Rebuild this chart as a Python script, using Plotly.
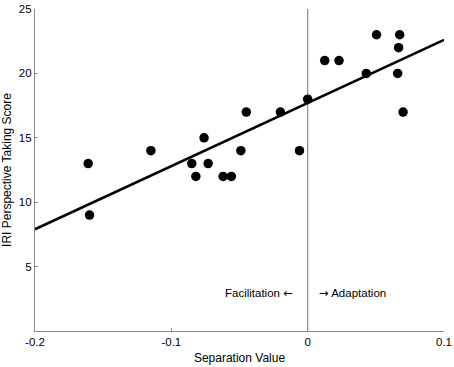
import plotly.graph_objects as go

# Data
sep_values = [-0.161, -0.160, -0.115, -0.085, -0.082, -0.076, -0.073, -0.062, -0.056,
              -0.049, -0.045, -0.020, -0.006, 0.000, 0.0125, 0.023, 0.043, 0.0505,
              0.0675, 0.0667, 0.066, 0.070]
iri_scores = [13, 9, 14, 13, 12, 15, 13, 12, 12,
              14, 17, 17, 14, 18, 21, 21, 20, 23,
              23, 22, 20, 17]

fit_x = [-0.2, 0.1]
fit_y = [7.9, 22.6]

x_ticks = [-0.2, -0.1, 0, 0.1]
x_tick_labels = ["-0.2", "-0.1", "0", "0.1"]
y_ticks = [5, 10, 15, 20, 25]
y_tick_labels = ["5", "10", "15", "20", "25"]

FONT = "Liberation Sans, Arial, Helvetica, sans-serif"
AXIS_COLOR = "#8a8a8a"
ARROW = "<span style='font-family:DejaVu Sans'>%s</span>"

fig = go.Figure()

# vertical reference line at x = 0
fig.add_trace(go.Scatter(x=[0, 0], y=[0, 25], mode="lines",
                         line=dict(color=AXIS_COLOR, width=1.2),
                         hoverinfo="skip", showlegend=False))

fig.add_trace(go.Scatter(x=fit_x, y=fit_y, mode="lines",
                         line=dict(color="black", width=2.5),
                         showlegend=False))

fig.add_trace(go.Scatter(x=sep_values, y=iri_scores, mode="markers",
                         marker=dict(color="black", size=9.5, line=dict(width=0)),
                         showlegend=False))

fig.add_annotation(x=-0.009, y=2.95, xref="x", yref="y",
                   text="Facilitation " + ARROW % "\u2190",
                   showarrow=False, xanchor="right", yanchor="middle",
                   font=dict(family=FONT, size=11.5, color="black"))
fig.add_annotation(x=0.007, y=2.95, xref="x", yref="y",
                   text=ARROW % "\u2192" + " Adaptation",
                   showarrow=False, xanchor="left", yanchor="middle",
                   font=dict(family=FONT, size=11.5, color="black"))

fig.update_layout(
    width=454, height=367,
    margin=dict(l=35, r=10, t=9, b=36, autoexpand=False),
    plot_bgcolor="white", paper_bgcolor="white",
    font=dict(family=FONT, size=11, color="black"),
    xaxis=dict(range=[-0.2, 0.1], tickvals=x_ticks, ticktext=x_tick_labels,
               automargin=False,
               showgrid=False, zeroline=False, showline=True, linecolor=AXIS_COLOR,
               linewidth=1.2, ticks="inside", ticklen=3, tickcolor=AXIS_COLOR,
               tickfont=dict(size=11.5),
               title=dict(text="Separation Value", font=dict(size=12), standoff=6)),
    yaxis=dict(range=[0, 25], tickvals=y_ticks, ticktext=y_tick_labels,
               automargin=False,
               showgrid=False, zeroline=False, showline=True, linecolor=AXIS_COLOR,
               linewidth=1.2, ticks="inside", ticklen=3, tickcolor=AXIS_COLOR,
               tickfont=dict(size=11.5),
               title=dict(text="IRI Perspective Taking Score", font=dict(size=12), standoff=5)),
)

fig.write_html(
    "out.html",
    config={"displayModeBar": False},
    post_script="document.body.style.margin='0';"
                "document.documentElement.style.overflow='hidden';"
                "document.body.style.overflow='hidden';",
)
